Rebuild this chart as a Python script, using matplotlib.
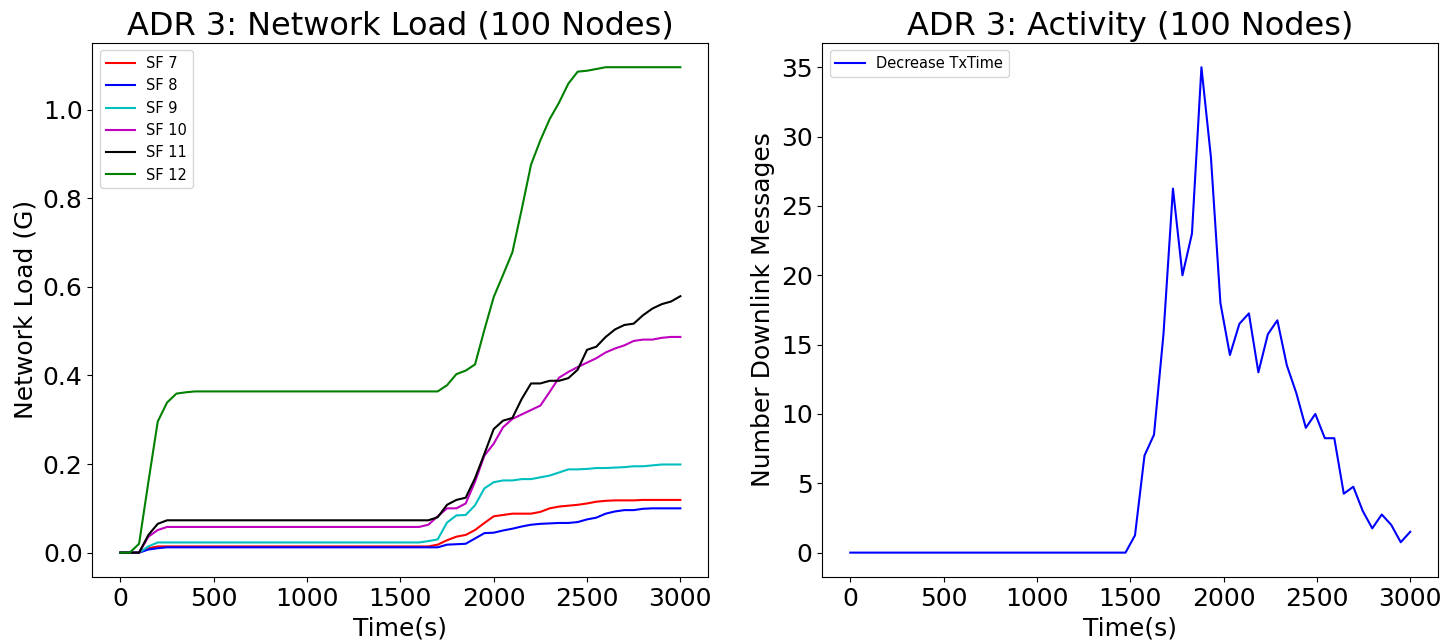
import numpy as np
import matplotlib
matplotlib.use('Agg')
import matplotlib.pyplot as plt

# left panel: network load per SF, sampled every 50 s
t_load = np.arange(0, 3001, 50)

sf7 = [0, 0, 0, 0.010, 0.014] + [0.014] * 29 + [
    0.018, 0.028, 0.036, 0.040, 0.051, 0.067, 0.082, 0.085, 0.088, 0.088,
    0.088, 0.092, 0.100, 0.104, 0.106, 0.108, 0.111, 0.115, 0.117, 0.118,
    0.118, 0.118, 0.119, 0.119, 0.119, 0.119, 0.119]
sf8 = [0, 0, 0, 0.007, 0.010] + [0.012] * 30 + [
    0.018, 0.019, 0.020, 0.032, 0.044, 0.045, 0.050, 0.054, 0.059, 0.063,
    0.065, 0.066, 0.067, 0.067, 0.069, 0.075, 0.079, 0.088, 0.093, 0.096,
    0.096, 0.099, 0.100, 0.100, 0.100, 0.100]
sf9 = [0, 0, 0, 0.014] + [0.023] * 29 + [
    0.026, 0.030, 0.068, 0.084, 0.085, 0.107, 0.145, 0.159, 0.163, 0.163,
    0.166, 0.166, 0.170, 0.174, 0.181, 0.188, 0.188, 0.189, 0.191, 0.191,
    0.192, 0.193, 0.195, 0.195, 0.197, 0.199, 0.199, 0.199]
sf10 = [0, 0, 0, 0.036, 0.051] + [0.058] * 28 + [
    0.063, 0.082, 0.100, 0.100, 0.111, 0.160, 0.219, 0.246, 0.283, 0.302,
    0.312, 0.322, 0.332, 0.363, 0.395, 0.408, 0.419, 0.429, 0.439, 0.452,
    0.461, 0.468, 0.478, 0.481, 0.481, 0.485, 0.487, 0.487]
sf11 = [0, 0, 0, 0.040, 0.065] + [0.073] * 29 + [
    0.080, 0.108, 0.119, 0.124, 0.168, 0.223, 0.279, 0.298, 0.304, 0.347,
    0.382, 0.382, 0.388, 0.388, 0.394, 0.413, 0.458, 0.465, 0.487, 0.504,
    0.514, 0.517, 0.536, 0.551, 0.561, 0.567, 0.579]
sf12 = [0, 0, 0.020, 0.160, 0.296, 0.339, 0.359, 0.362] + [0.364] * 27 + [
    0.378, 0.403, 0.411, 0.425, 0.503, 0.577, 0.627, 0.678, 0.775, 0.876,
    0.931, 0.979, 1.016, 1.059, 1.086, 1.088, 1.092, 1.096, 1.096, 1.096,
    1.096, 1.096, 1.096, 1.096, 1.096, 1.096]

# right panel: downlink messages
t_act = np.linspace(0, 3000, 60)
downlink = [0] * 30 + [
    1.25, 7, 8.5, 15.75, 26.25, 20, 23, 35, 28.5, 18,
    14.25, 16.5, 17.25, 13, 15.75, 16.75, 13.5, 11.5, 9, 10,
    8.25, 8.25, 4.25, 4.75, 3, 1.75, 2.75, 2, 0.75, 1.5]

fig, (ax1, ax2) = plt.subplots(1, 2, figsize=(14.44, 6.41), dpi=100)
plt.subplots_adjust(left=0.064, right=0.996, top=0.933, bottom=0.1, wspace=0.185)

ax1.plot(t_load, sf7, 'r', label='SF 7')
ax1.plot(t_load, sf8, 'b', label='SF 8')
ax1.plot(t_load, sf9, 'c', label='SF 9')
ax1.plot(t_load, sf10, 'm', label='SF 10')
ax1.plot(t_load, sf11, 'k', label='SF 11')
ax1.plot(t_load, sf12, 'g', label='SF 12')
ax1.set_title('ADR 3: Network Load (100 Nodes)', fontsize=23)
ax1.set_xlabel('Time(s)', fontsize=18)
ax1.set_ylabel('Network Load (G)', fontsize=18)
ax1.tick_params(labelsize=18)
ax1.legend(loc='upper left', fontsize=10.5)

ax2.plot(t_act, downlink, 'b', label='Decrease TxTime')
ax2.set_title('ADR 3: Activity (100 Nodes)', fontsize=23)
ax2.set_xlabel('Time(s)', fontsize=18)
ax2.set_ylabel('Number Downlink Messages', fontsize=18)
ax2.tick_params(labelsize=18)
ax2.legend(loc='upper left', fontsize=10.5)

plt.savefig('out.png')
